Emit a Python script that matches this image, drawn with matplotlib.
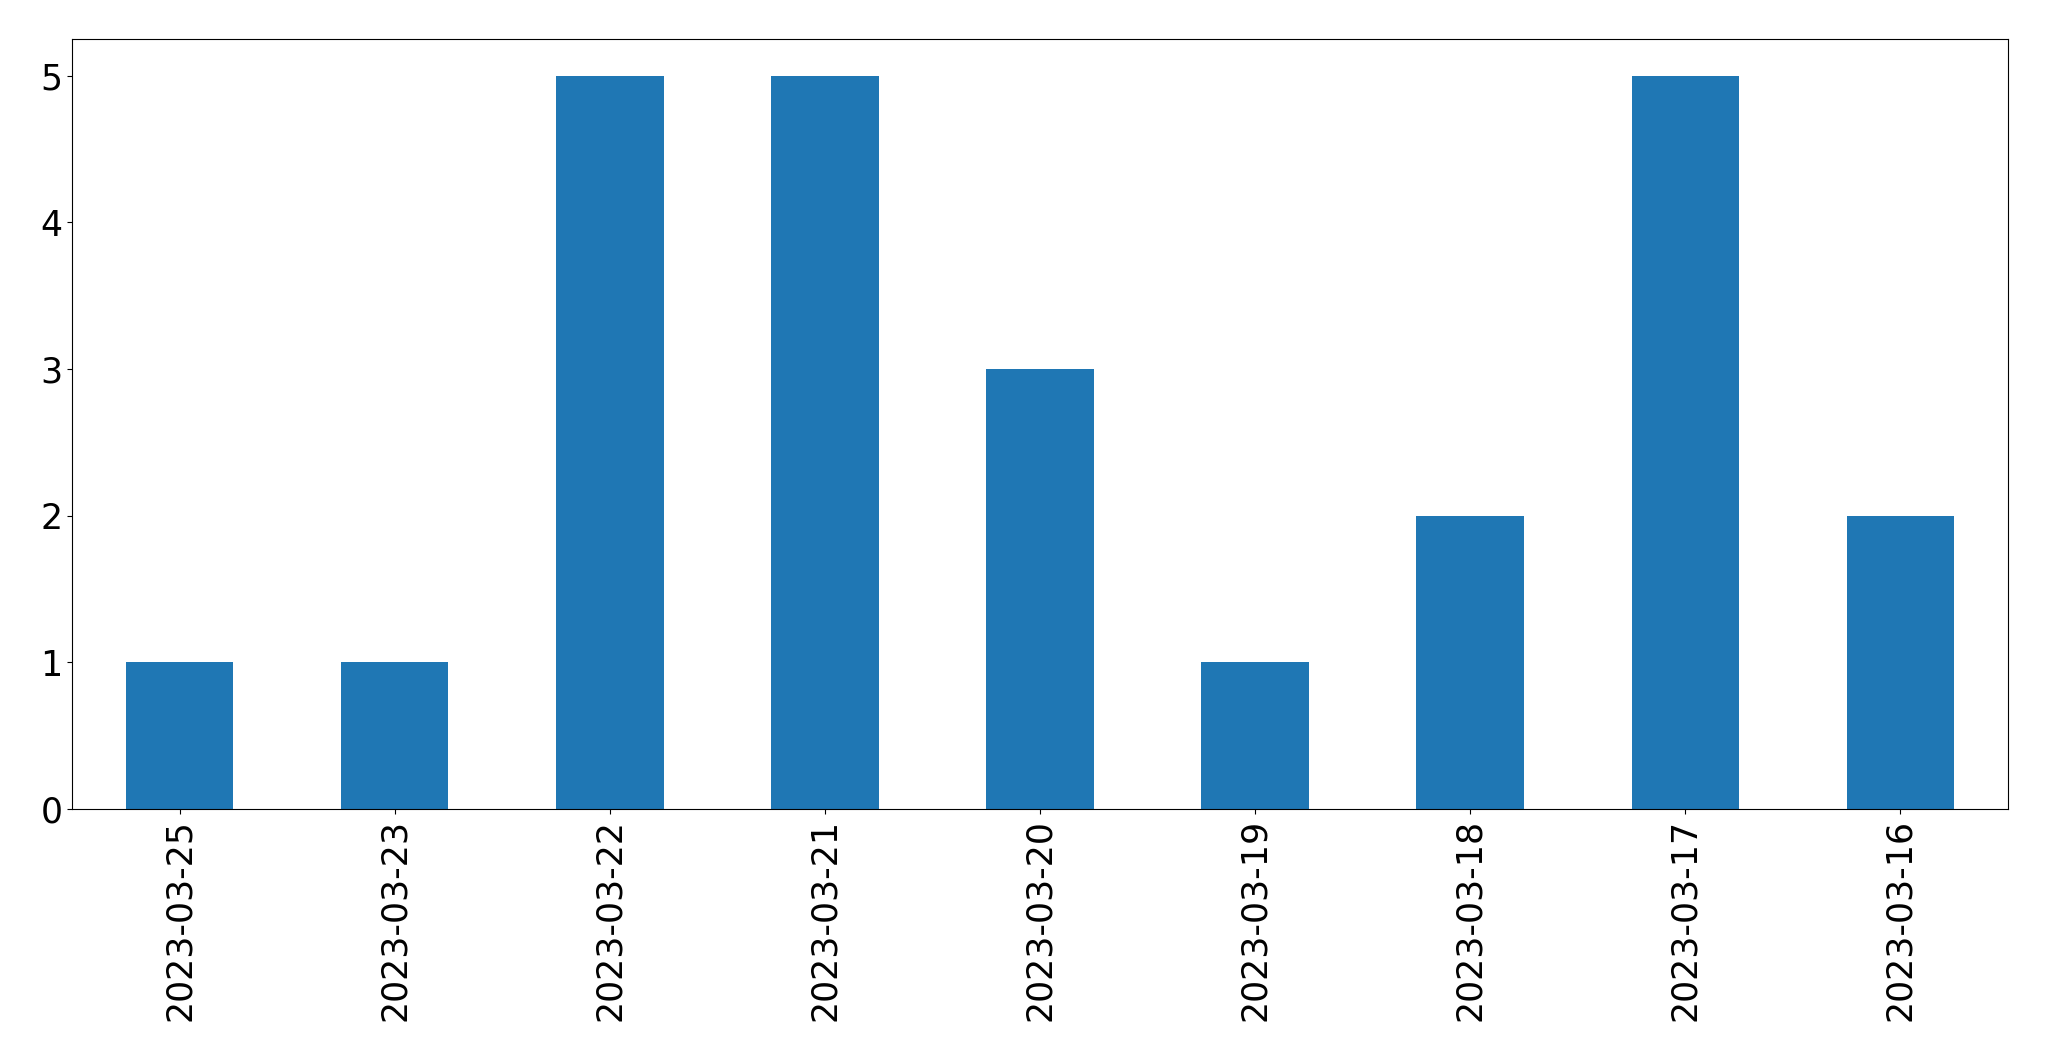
import pandas as pd
import matplotlib
matplotlib.use("Agg")
import matplotlib.pyplot as plt

dates = ["2023-03-25", "2023-03-23", "2023-03-22", "2023-03-21", "2023-03-20",
         "2023-03-19", "2023-03-18", "2023-03-17", "2023-03-16"]
counts = [1, 1, 5, 5, 3, 1, 2, 5, 2]

s = pd.Series(counts, index=dates)

fig = plt.figure(figsize=(20.49, 10.61), dpi=100)
ax = fig.add_axes([72 / 2049, 1 - 809 / 1061, 1936 / 2049, 770 / 1061])
s.plot(kind="bar", ax=ax, color="#1f77b4", width=0.5)
ax.tick_params(axis="both", labelsize=25)
for lbl in ax.get_xticklabels():
    lbl.set_rotation(90)

fig.savefig("out.png", dpi=100)
